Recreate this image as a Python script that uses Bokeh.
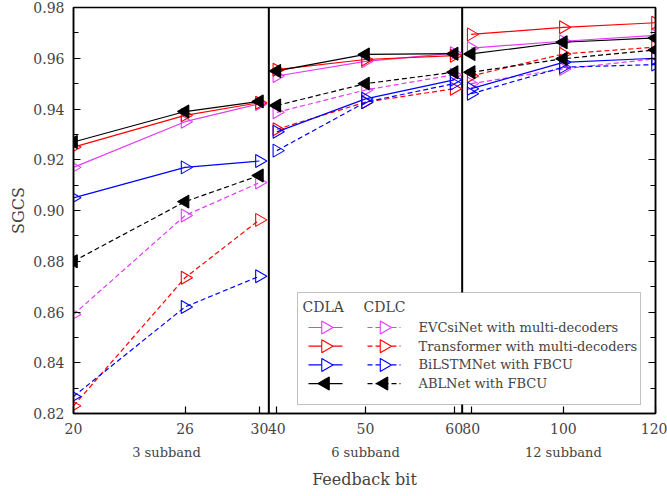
import math
from bokeh.plotting import figure
from bokeh.models import (Range1d, FixedTicker, LinearAxis, CustomJSTickFormatter,
                          Span, BoxAnnotation, Label)
from bokeh.embed import file_html
from bokeh.resources import INLINE

# ---- data -------------------------------------------------------------
bits = [20, 26, 30, 40, 50, 60, 80, 100, 120]
groups = ["3 subband", "6 subband", "12 subband"]

# CDLA (solid)
evcsinet_cdla = [0.917, 0.935, 0.942, 0.953, 0.9588, 0.962, 0.964, 0.9667, 0.969]
transformer_cdla = [0.925, 0.9375, 0.9425, 0.9555, 0.9595, 0.961, 0.9694, 0.9722, 0.974]
bilstm_cdla = [0.905, 0.917, 0.9195, 0.931, 0.944, 0.9515, 0.948, 0.9584, 0.960]
ablnet_cdla = [0.927, 0.939, 0.943, 0.955, 0.9615, 0.9618, 0.9617, 0.9663, 0.968]

# CDLC (dashed)
evcsinet_cdlc = [0.859, 0.898, 0.911, 0.9387, 0.9475, 0.9535, 0.950, 0.9558, 0.9598]
transformer_cdlc = [0.823, 0.8735, 0.8963, 0.932, 0.9427, 0.948, 0.953, 0.9617, 0.9644]
bilstm_cdlc = [0.8267, 0.862, 0.8741, 0.9236, 0.9427, 0.950, 0.946, 0.9565, 0.9575]
ablnet_cdlc = [0.880, 0.9035, 0.9138, 0.9414, 0.950, 0.9545, 0.9545, 0.9598, 0.9633]

names = ["EVCsiNet with multi-decoders", "Transformer with multi-decoders",
         "BiLSTMNet with FBCU", "ABLNet with FBCU"]
modes = ["CDLA", "CDLC"]

y_ticks = [0.82, 0.84, 0.86, 0.88, 0.90, 0.92, 0.94, 0.96, 0.98]
y_minor = [0.83, 0.85, 0.87, 0.89, 0.91, 0.93, 0.95, 0.97]

# ---- piecewise x scale: each subband block gets its own stretch -------
SEGMENTS = [(20, 30, 0.0, 185.6), (40, 60, 203.0, 380.0), (80, 120, 397.0, 581.0)]
DIVIDERS = [195.0, 388.0]
X_END = 581.0


def seg_of(b):
    for i, (b0, b1, _, _) in enumerate(SEGMENTS):
        if b0 <= b <= b1:
            return i
    raise ValueError(b)


def to_pos(b):
    b0, b1, p0, p1 = SEGMENTS[seg_of(b)]
    return p0 + (b - b0) * (p1 - p0) / (b1 - b0)


xpos = [to_pos(b) for b in bits]


def broken(vals):
    """x/y lists with NaN gaps so lines do not join across blocks."""
    xs, ys = [], []
    prev = None
    for b, x, v in zip(bits, xpos, vals):
        s = seg_of(b)
        if prev is not None and s != prev:
            xs.append(float("nan"))
            ys.append(float("nan"))
        xs.append(x)
        ys.append(v)
        prev = s
    return xs, ys


SERIF = "DejaVu Serif"
MAGENTA = "#e03cf5"
FRAME_W, FRAME_H = 582, 406

p = figure(width=667, height=496, output_backend="svg", toolbar_location=None,
           x_range=Range1d(0, X_END), y_range=Range1d(0.82, 0.98),
           min_border_left=73, min_border_right=12, min_border_top=7,
           min_border_bottom=83, background_fill_color="white",
           border_fill_color="white")
# pixel coordinates of the frame, used only for the legend key
p.extra_x_ranges = {"px": Range1d(0, FRAME_W)}
p.extra_y_ranges = {"px": Range1d(0, FRAME_H)}
p.grid.visible = False
p.outline_line_color = "black"
p.outline_line_width = 1.5

LOOKUP = """
    let best = 0;
    for (let i = 0; i < pos.length; i++) {
        if (Math.abs(pos[i] - tick) < Math.abs(pos[best] - tick)) best = i;
    }
    return lab[best];
"""

# x axis: bit values
xax = p.xaxis[0]
xax.ticker = FixedTicker(ticks=xpos, minor_ticks=[])
xax.formatter = CustomJSTickFormatter(args=dict(pos=xpos, lab=[str(b) for b in bits]),
                                      code=LOOKUP)
xax.major_tick_in = 7
xax.major_tick_out = 0
xax.axis_line_width = 1.5
xax.major_tick_line_width = 1.2
xax.major_label_text_font = SERIF
xax.major_label_text_font_size = "14px"
xax.major_label_standoff = 9

# second bottom axis: block names + title
mids = [(s[2] + s[3]) / 2 for s in SEGMENTS]
gax = LinearAxis(ticker=FixedTicker(ticks=mids, minor_ticks=[]),
                 formatter=CustomJSTickFormatter(args=dict(pos=mids, lab=groups),
                                                 code=LOOKUP))
gax.axis_line_color = None
gax.major_tick_line_color = None
gax.major_tick_in = 0
gax.major_tick_out = 0
gax.major_label_text_font = SERIF
gax.major_label_text_font_size = "13px"
gax.major_label_standoff = 8
gax.axis_label = "Feedback bit"
gax.axis_label_text_font = SERIF
gax.axis_label_text_font_size = "16px"
gax.axis_label_text_font_style = "normal"
gax.axis_label_standoff = 7
p.add_layout(gax, "below")

# y axis
yax = p.yaxis[0]
yax.ticker = FixedTicker(ticks=y_ticks, minor_ticks=y_minor)
yax.formatter = CustomJSTickFormatter(code="return tick.toFixed(2);")
yax.major_tick_in = 7
yax.major_tick_out = 0
yax.minor_tick_in = 5
yax.minor_tick_out = 0
yax.axis_line_width = 1.5
yax.major_label_text_font = SERIF
yax.major_label_text_font_size = "14px"
yax.major_label_standoff = 9
yax.axis_label = "SGCS"
yax.axis_label_text_font = SERIF
yax.axis_label_text_font_size = "16px"
yax.axis_label_text_font_style = "normal"
yax.axis_label_standoff = 2

# mirrored ticks on the right, no labels
rax = LinearAxis(ticker=FixedTicker(ticks=y_ticks, minor_ticks=y_minor))
rax.major_tick_in = 7
rax.major_tick_out = 0
rax.minor_tick_in = 5
rax.minor_tick_out = 0
rax.axis_line_width = 1.5
rax.major_label_text_color = None
rax.major_label_standoff = 0
p.add_layout(rax, "right")

# block dividers
for d in DIVIDERS:
    p.add_layout(Span(location=d, dimension="height", line_color="black",
                      line_width=2, level="underlay"))

RIGHT = -math.pi / 2
LEFT = math.pi / 2
MARKER_SIZE = 13

styles = [
    (MAGENTA, evcsinet_cdla, evcsinet_cdlc, RIGHT, False),
    ("#ff0000", transformer_cdla, transformer_cdlc, RIGHT, False),
    ("#0000ff", bilstm_cdla, bilstm_cdlc, RIGHT, False),
    ("black", ablnet_cdla, ablnet_cdlc, LEFT, True),
]
DASHES = ["solid", "5 3"]

for color, cdla, cdlc, ang, filled in styles:
    for vals, dash in zip((cdla, cdlc), DASHES):
        lx, ly = broken(vals)
        p.line(lx, ly, line_color=color, line_width=1.2, line_dash=dash)
        p.scatter(xpos, vals, marker="triangle", size=MARKER_SIZE, angle=ang,
                  line_color=color, line_width=1.1,
                  fill_color=color if filled else None)

# ---- legend key (frame pixel coordinates, y up) ------------------------
BOX = dict(left=224, right=567, bottom=9, top=121)
p.add_layout(BoxAnnotation(left=BOX["left"], right=BOX["right"],
                           bottom=BOX["bottom"], top=BOX["top"],
                           left_units="screen", right_units="screen",
                           bottom_units="screen", top_units="screen",
                           fill_color="white", fill_alpha=1.0,
                           line_color="#333333", line_width=1, level="underlay"))

HEAD_Y = BOX["top"] - 14
ROW0_Y = BOX["top"] - 35
ROW_STEP = 18.7
COLS = [(235, 269), (294, 327)]
HEAD_X = [229, 290]
TEXT_X = 345

for hx, mode in zip(HEAD_X, modes):
    p.add_layout(Label(x=hx, y=HEAD_Y, x_units="screen", y_units="screen",
                       text=mode, text_font=SERIF, text_font_size="14px",
                       text_baseline="middle", text_align="left"))

for i, (color, _, _, ang, filled) in enumerate(styles):
    ry = ROW0_Y - i * ROW_STEP
    for (c0, c1), dash in zip(COLS, DASHES):
        p.segment(x0=[c0], y0=[ry], x1=[c1], y1=[ry], line_color=color,
                  line_width=1.2, line_dash=dash,
                  x_range_name="px", y_range_name="px")
        p.scatter(x=[(c0 + c1) / 2], y=[ry], marker="triangle", size=MARKER_SIZE,
                  angle=ang, line_color=color, line_width=1.1,
                  fill_color=color if filled else "white",
                  x_range_name="px", y_range_name="px")
    p.add_layout(Label(x=TEXT_X, y=ry, x_units="screen", y_units="screen",
                       text=names[i], text_font=SERIF, text_font_size="13px",
                       text_baseline="middle", text_align="left"))

open("out.html", "w").write(file_html(p, INLINE))
